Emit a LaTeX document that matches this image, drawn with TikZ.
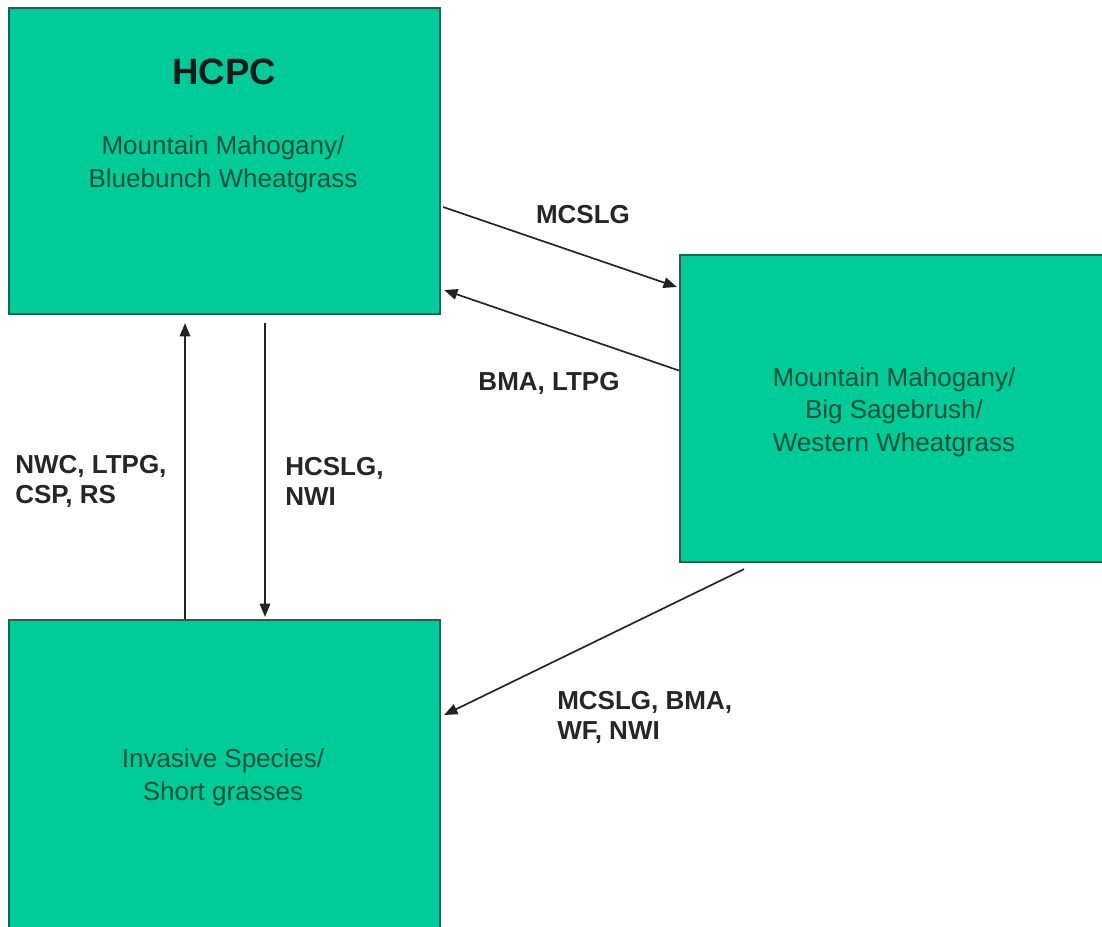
\documentclass[tikz,border=0pt]{standalone}
\usepackage{fontspec}
\setmainfont{Liberation Sans}
\usetikzlibrary{calc,arrows.meta}
\definecolor{boxfill}{RGB}{0,204,153}
\definecolor{boxedge}{RGB}{30,100,75}
\definecolor{boxtext}{RGB}{18,80,56}
\definecolor{linecol}{RGB}{35,35,35}
\tikzset{
  statebox/.style={draw=boxedge, line width=1.7pt, fill=boxfill, inner sep=0pt},
  boxlabel/.style={text=boxtext, align=center, font=\fontsize{19.5}{24.5}\selectfont},
  arlabel/.style={text=black!85, align=left, font=\bfseries\fontsize{19.5}{22.5}\selectfont, inner sep=0pt},
  arr/.style={draw=linecol, line width=1.25pt, -{Triangle[length=10pt,width=8pt]}}
}
\begin{document}
\begin{tikzpicture}[x=0.75pt,y=-0.75pt]
\useasboundingbox (0,0) rectangle (1102,926);
\clip (0,0) rectangle (1102,926);
\fill[white] (0,0) rectangle (1102,926);
% boxes
\node[statebox, minimum width=323.25pt, minimum height=229.5pt] (b1) at (224.5,161) {};
\node[statebox, minimum width=321pt, minimum height=230.25pt] (b2) at (894,408.5) {};
\node[statebox, minimum width=323.25pt, minimum height=232.5pt] (b3) at (224.5,775) {};
% box texts
\node[text=black!90, font=\bfseries\fontsize{27.5}{30}\selectfont] (t1h) at (224,72) {HCPC};
\node[boxlabel] (t1) at (223,164) {Mountain Mahogany/\\Bluebunch Wheatgrass};
\node[boxlabel] (t2) at (894,412) {Mountain Mahogany/\\Big Sagebrush/\\Western Wheatgrass};
\node[boxlabel] (t3) at (223,777) {Invasive Species/\\Short grasses};
% connectors
\draw[arr] ($(b1.east)+(2,46)$) -- ($(b2.west)+(-2,-121.5)$);
\draw[arr] ($(b2.west)+(0,-38)$) -- ($(b1.east)+(3,129)$);
\draw[arr] ($(b3.north)+(-39.5,0)$) -- ($(b1.south)+(-39.5,8)$);
\draw[arr] ($(b1.south)+(40.5,8)$) -- ($(b3.north)+(40.5,-2)$);
\draw[arr] ($(b2.south)+(-150,6)$) -- ($(b3.east)+(3,-60)$);
% labels
\node[arlabel] (l1) at (583,215) {MCSLG};
\node[arlabel] (l2) at (549,383) {BMA, LTPG};
\node[arlabel, anchor=west] (l3) at (15,481) {NWC, LTPG,\\CSP, RS};
\node[arlabel, anchor=west] (l4) at (285,481) {HCSLG,\\NWI};
\node[arlabel, anchor=west] (l5) at (557,717) {MCSLG, BMA,\\WF, NWI};
\end{tikzpicture}
\end{document}
